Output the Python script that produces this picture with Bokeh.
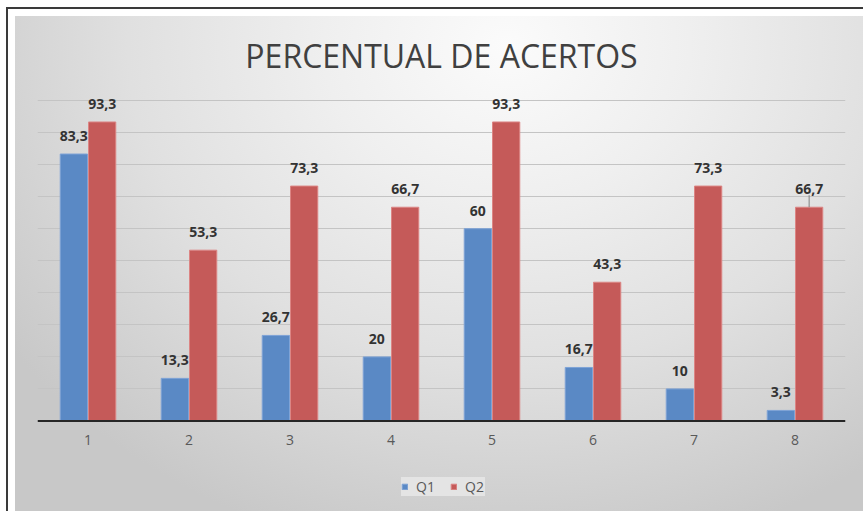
from bokeh.plotting import figure
from bokeh.models import (ColumnDataSource, FactorRange, Range1d, Legend, LegendItem,
                          FixedTicker, Grid, Span, Label)
from bokeh.transform import dodge
from bokeh.embed import file_html
from bokeh.resources import INLINE
from bokeh.core.properties import value

# ---- data ----
questions = ["1", "2", "3", "4", "5", "6", "7", "8"]
q1 = [83.3, 13.3, 26.7, 20, 60, 16.7, 10, 3.3]
q2 = [93.3, 53.3, 73.3, 66.7, 93.3, 43.3, 73.3, 66.7]
series_names = ["Q1", "Q2"]
grid_values = [10, 20, 30, 40, 50, 60, 70, 80, 90, 100]
title_text = "PERCENTUAL DE ACERTOS"
leader_questions = ["8"]  # Q2 label with a leader line


def fmt(v):
    return ("%g" % v).replace(".", ",")


src = ColumnDataSource(dict(
    x=questions, q1=q1, q2=q2,
    base=[0] * len(questions),
    q1_lbl=[fmt(v) for v in q1],
    q2_lbl=[fmt(v) for v in q2],
))

BLUE = "#5a89c5"
RED = "#c55a59"
FONT = "Open Sans"

# layout: the frame covers the whole chart height; value 100 sits 84 px below its top
FIG_W, FIG_H = 848, 495
PX_PER_UNIT = 3.205
Y_END = 100 + 84 / PX_PER_UNIT
Y_START = Y_END - FIG_H / PX_PER_UNIT
TITLE_Y = 100 + 45 / PX_PER_UNIT

p = figure(width=FIG_W, height=FIG_H,
           x_range=FactorRange(*questions, range_padding=0),
           y_range=Range1d(Y_START, Y_END),
           x_axis_location=None, y_axis_location=None,
           output_backend="svg", toolbar_location=None,
           min_border_left=22, min_border_right=18,
           min_border_top=0, min_border_bottom=0)
p.margin = (16, 0, 0, 15)
p.border_fill_color = None
p.background_fill_color = None
p.outline_line_color = None
p.styles = {
    "background": "radial-gradient(ellipse 72% 105% at 58% 6%, #fbfbfb 0%, #efefef 30%, #e0e0e0 62%, #c8c8c8 100%)",
    "outline": "2px solid #3a3a3a",
    "outline-offset": "7px",
}

# remove default grids
for g in p.grid:
    g.visible = False

# title (centred over the categories)
p.add_layout(Label(x=len(questions) / 2, y=TITLE_Y, text=title_text,
                   text_align="center", text_baseline="middle",
                   text_font=FONT, text_font_size="32px", text_color="#404040"))

# horizontal grid
p.add_layout(Grid(dimension=1, ticker=FixedTicker(ticks=grid_values),
                  grid_line_color="#c4c4c4", grid_line_width=1))

# bars
r1 = p.vbar(x=dodge("x", -0.14, range=p.x_range), top="q1", width=0.27, source=src,
            fill_color=BLUE, line_color="#7ea3d6", line_width=1)
r2 = p.vbar(x=dodge("x", 0.14, range=p.x_range), top="q2", width=0.27, source=src,
            fill_color=RED, line_color="#dc8584", line_width=1)

# value axis baseline
p.add_layout(Span(location=0, dimension="width", line_color="#262626", line_width=2))

# category labels
p.text(x="x", y="base", text="x", source=src, text_align="center", text_baseline="top",
       y_offset=14, text_font=value(FONT), text_font_size="14px", text_color="#595959")

# leader line for moved label
lead_y0 = [q2[questions.index(q)] for q in leader_questions]
lead_src = ColumnDataSource(dict(x=leader_questions, y0=lead_y0,
                                 y1=[v + 12 / PX_PER_UNIT for v in lead_y0]))
p.segment(x0=dodge("x", 0.14, range=p.x_range), x1=dodge("x", 0.14, range=p.x_range),
          y0="y0", y1="y1", source=lead_src, line_color="#808080", line_width=1)

# data labels
for col, off in (("q1", -0.14), ("q2", 0.14)):
    p.text(x=dodge("x", off, range=p.x_range), y=col, text=col + "_lbl", source=src,
           text_align="center", text_baseline="bottom", y_offset=-13,
           text_font=value(FONT), text_font_style="bold", text_font_size="14px",
           text_color="#333333")

legend = Legend(items=[LegendItem(label=series_names[0], renderers=[r1]),
                       LegendItem(label=series_names[1], renderers=[r2])],
                orientation="horizontal", location=(364, 15),
                glyph_width=7, glyph_height=7, label_height=18,
                label_standoff=8, spacing=14, padding=9, margin=0,
                label_text_font=FONT, label_text_font_size="14px",
                label_text_color="#595959",
                background_fill_color="#e4e4e4", background_fill_alpha=1.0,
                border_line_color=None)
p.add_layout(legend, "center")

open("out.html", "w").write(file_html(p, INLINE))
